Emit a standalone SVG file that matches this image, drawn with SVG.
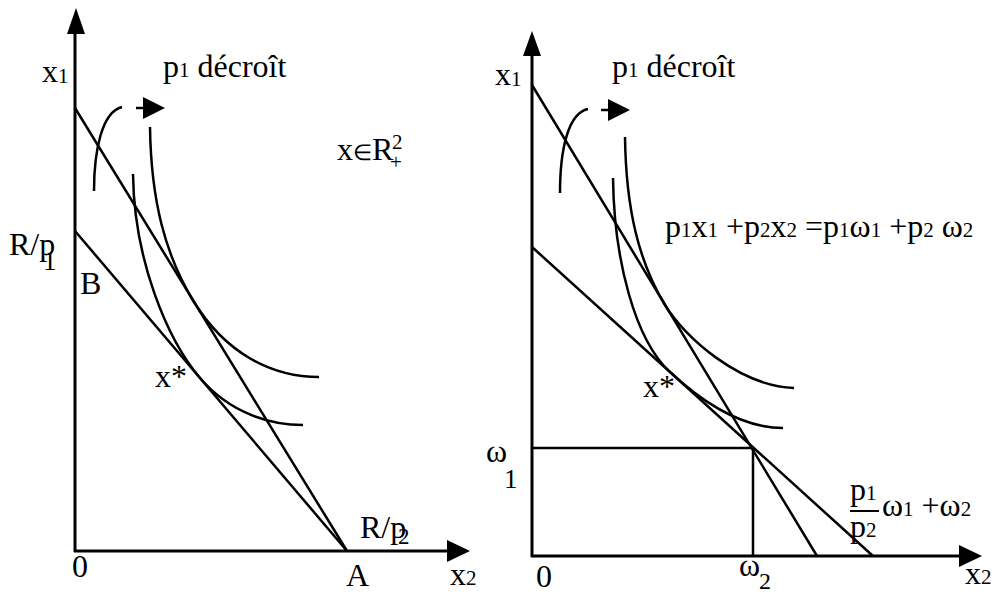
<svg xmlns="http://www.w3.org/2000/svg" width="996" height="594" viewBox="0 0 996 594">
<style>
.ax{stroke:#000;stroke-width:3;fill:none}
.ln{stroke:#000;stroke-width:2.5;fill:none}
.hd{fill:#000}
text{font-family:"Liberation Serif","Times New Roman",serif;fill:#000;font-size:32px}
.s{font-size:21px}
</style>
<rect width="996" height="594" fill="#fff"/>

<g id="left-panel">
  <g id="left-axes">
    <line class="ax" x1="75" y1="552" x2="75" y2="30"/>
    <polygon class="hd" points="76,8 67,34 85,34"/>
    <line class="ax" x1="74" y1="551" x2="450" y2="551"/>
    <polygon class="hd" points="470,551 447,540 447,562"/>
  </g>
  <g id="left-budget-lines">
    <line class="ln" x1="75" y1="108" x2="347" y2="551"/>
    <line class="ln" x1="75" y1="231" x2="347" y2="551"/>
  </g>
  <g id="left-indifference-curves">
    <path class="ln" d="M150,127 C151,200 165,255 194,302 C225,352 270,377 319,377"/>
    <path class="ln" d="M133,174 C134,260 167,339 200,378 C230,413 270,425 303,425"/>
  </g>
  <g id="left-shift-arrow">
    <path class="ln" d="M94,191 C94,150 102,112 122,107"/>
    <line class="ln" x1="136" y1="108" x2="146" y2="108"/>
    <polygon class="hd" points="165,108 143,97 143,119"/>
  </g>
  <g id="left-labels">
    <text x="42" y="82">x<tspan class="s" dy="1">1</tspan></text>
    <text x="163" y="77">p<tspan class="s">1</tspan> décroît</text>
    <text x="337" y="160">x<tspan style="font-size:22px">∈</tspan>R</text>
    <text x="392" y="149" class="s">2</text>
    <text x="390" y="169" class="s">+</text>
    <text x="9" y="255">R/p</text>
    <text x="43" y="270" style="font-size:27px">1</text>
    <text x="80" y="294">B</text>
    <text x="155" y="387">x*</text>
    <text x="360" y="538">R/p</text>
    <text x="398" y="544" style="font-size:23px">2</text>
    <text x="72" y="577">0</text>
    <text x="346" y="586">A</text>
    <text x="450" y="585">x<tspan class="s">2</tspan></text>
  </g>
</g>

<g id="right-panel">
  <g id="right-axes">
    <line class="ax" x1="532" y1="557" x2="532" y2="52"/>
    <polygon class="hd" points="532,31 523,56 541,56"/>
    <line class="ax" x1="531" y1="556" x2="962" y2="556"/>
    <polygon class="hd" points="982,556 959,545 959,567"/>
  </g>
  <g id="right-budget-lines">
    <line class="ln" x1="532" y1="85" x2="817" y2="556"/>
    <line class="ln" x1="532" y1="247" x2="873" y2="556"/>
  </g>
  <g id="right-endowment">
    <polyline class="ln" points="532,448 753,448 753,556"/>
  </g>
  <g id="right-indifference-curves">
    <path class="ln" d="M625,137 C626,210 639,262 665,305 C685,338 740,386 794,388"/>
    <path class="ln" d="M613,178 C614,260 635,340 670,372 C700,400 740,428 783,428"/>
  </g>
  <g id="right-shift-arrow">
    <path class="ln" d="M560,193 C560,150 568,113 588,109"/>
    <line class="ln" x1="601" y1="110" x2="610" y2="110"/>
    <polygon class="hd" points="630,110 608,99 608,121"/>
  </g>
  <g id="right-labels">
    <text x="495" y="85">x<tspan class="s" dy="1">1</tspan></text>
    <text x="612" y="77">p<tspan class="s">1</tspan> décroît</text>
    <text x="665" y="237">p<tspan class="s">1</tspan>x<tspan class="s">1</tspan> +p<tspan class="s">2</tspan>x<tspan class="s">2</tspan> =p<tspan class="s">1</tspan>ω<tspan class="s">1</tspan> +p<tspan class="s">2</tspan> ω<tspan class="s">2</tspan></text>
    <text x="643" y="397">x*</text>
    <text x="486" y="462">ω</text>
    <text x="504" y="488" style="font-size:27px">1</text>
    <text x="739" y="576">ω</text>
    <text x="759" y="589" style="font-size:24px">2</text>
    <text x="536" y="587">0</text>
    <text x="965" y="584">x<tspan class="s">2</tspan></text>
    <text x="850" y="500">p<tspan class="s">1</tspan></text>
    <line class="ln" x1="850" y1="511" x2="879" y2="511" style="stroke-width:2"/>
    <text x="850" y="537">p<tspan class="s">2</tspan></text>
    <text x="882" y="516">ω<tspan class="s">1</tspan> +ω<tspan class="s">2</tspan></text>
  </g>
</g>
</svg>
